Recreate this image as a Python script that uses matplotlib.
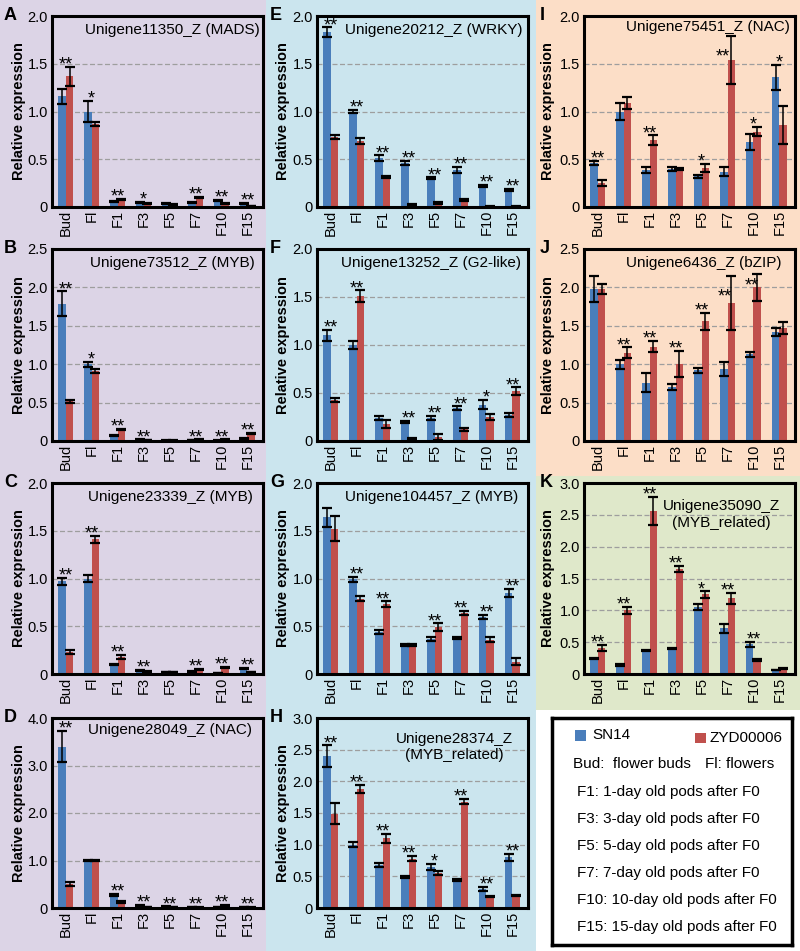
import matplotlib
matplotlib.use("Agg")
import matplotlib.pyplot as plt
from matplotlib.patches import Rectangle
import numpy as np

plt.rcParams['font.family'] = ['Liberation Sans', 'DejaVu Sans']

# stages on the x axis
stages = ['Bud', 'Fl', 'F1', 'F3', 'F5', 'F7', 'F10', 'F15']
series = ['SN14', 'ZYD00006']

# A  Unigene11350_Z (MADS)
a_sn = [1.16, 1.00, 0.06, 0.05, 0.04, 0.05, 0.07, 0.04]
a_sn_err = [0.08, 0.11, 0.005, 0.004, 0.004, 0.005, 0.005, 0.004]
a_zy = [1.37, 0.87, 0.08, 0.04, 0.03, 0.10, 0.04, 0.01]
a_zy_err = [0.10, 0.02, 0.005, 0.004, 0.004, 0.005, 0.004, 0.003]
a_sig = ['**', '*', '**', '*', '', '**', '**', '**']

# B  Unigene73512_Z (MYB)
b_sn = [1.79, 1.00, 0.07, 0.02, 0.005, 0.01, 0.005, 0.03]
b_sn_err = [0.16, 0.03, 0.005, 0.003, 0.002, 0.003, 0.002, 0.004]
b_zy = [0.52, 0.91, 0.15, 0.01, 0.005, 0.02, 0.02, 0.10]
b_zy_err = [0.02, 0.03, 0.007, 0.003, 0.002, 0.003, 0.003, 0.01]
b_sig = ['**', '*', '**', '**', '', '**', '**', '**']

# C  Unigene23339_Z (MYB)
c_sn = [0.97, 1.00, 0.10, 0.04, 0.02, 0.03, 0.01, 0.06]
c_sn_err = [0.04, 0.04, 0.005, 0.004, 0.003, 0.004, 0.002, 0.005]
c_zy = [0.23, 1.41, 0.18, 0.03, 0.02, 0.05, 0.07, 0.02]
c_zy_err = [0.02, 0.04, 0.02, 0.004, 0.003, 0.005, 0.006, 0.003]
c_sig = ['**', '**', '**', '**', '', '**', '**', '**']

# D  Unigene28049_Z (NAC)
d_sn = [3.40, 1.00, 0.28, 0.06, 0.03, 0.02, 0.02, 0.02]
d_sn_err = [0.33, 0.01, 0.02, 0.01, 0.005, 0.005, 0.005, 0.005]
d_zy = [0.50, 1.00, 0.12, 0.02, 0.02, 0.01, 0.05, 0.01]
d_zy_err = [0.04, 0.02, 0.02, 0.005, 0.005, 0.003, 0.01, 0.003]
d_sig = ['**', '', '**', '**', '**', '**', '**', '**']

# E  Unigene20212_Z (WRKY)
e_sn = [1.83, 1.00, 0.51, 0.46, 0.30, 0.39, 0.22, 0.18]
e_sn_err = [0.05, 0.02, 0.03, 0.02, 0.01, 0.03, 0.01, 0.01]
e_zy = [0.73, 0.69, 0.31, 0.02, 0.04, 0.07, 0.005, 0.005]
e_zy_err = [0.02, 0.03, 0.01, 0.01, 0.01, 0.01, 0.002, 0.002]
e_sig = ['**', '**', '**', '**', '**', '**', '**', '**']

# F  Unigene13252_Z (G2-like)
f_sn = [1.10, 1.00, 0.24, 0.20, 0.24, 0.34, 0.38, 0.27]
f_sn_err = [0.06, 0.04, 0.02, 0.01, 0.02, 0.02, 0.05, 0.02]
f_zy = [0.43, 1.51, 0.18, 0.03, 0.04, 0.12, 0.25, 0.52]
f_zy_err = [0.02, 0.06, 0.04, 0.005, 0.03, 0.02, 0.03, 0.04]
f_sig = ['**', '**', '', '**', '**', '**', '*', '**']

# G  Unigene104457_Z (MYB)
g_sn = [1.64, 0.99, 0.44, 0.30, 0.37, 0.38, 0.60, 0.85]
g_sn_err = [0.10, 0.03, 0.02, 0.01, 0.02, 0.01, 0.02, 0.04]
g_zy = [1.52, 0.79, 0.73, 0.30, 0.49, 0.64, 0.36, 0.13]
g_zy_err = [0.13, 0.03, 0.03, 0.01, 0.04, 0.02, 0.03, 0.04]
g_sig = ['', '**', '**', '', '**', '**', '**', '**']

# H  Unigene28374_Z (MYB_related)
h_sn = [2.40, 1.00, 0.68, 0.49, 0.65, 0.44, 0.30, 0.80]
h_sn_err = [0.17, 0.04, 0.03, 0.01, 0.05, 0.02, 0.03, 0.06]
h_zy = [1.49, 1.88, 1.10, 0.78, 0.55, 1.68, 0.18, 0.20]
h_zy_err = [0.17, 0.07, 0.07, 0.04, 0.03, 0.04, 0.01, 0.01]
h_sig = ['**', '**', '**', '**', '*', '**', '**', '**']

# I  Unigene75451_Z (NAC)
i_sn = [0.46, 1.00, 0.39, 0.40, 0.32, 0.37, 0.68, 1.36]
i_sn_err = [0.02, 0.09, 0.03, 0.02, 0.02, 0.05, 0.08, 0.13]
i_zy = [0.25, 1.09, 0.70, 0.40, 0.41, 1.54, 0.79, 0.86]
i_zy_err = [0.03, 0.06, 0.05, 0.01, 0.04, 0.25, 0.05, 0.20]
i_sig = ['**', '', '**', '', '*', '**', '*', '*']

# J  Unigene6436_Z (bZIP)
j_sn = [1.98, 1.00, 0.76, 0.70, 0.92, 0.94, 1.13, 1.42]
j_sn_err = [0.17, 0.06, 0.12, 0.04, 0.03, 0.09, 0.03, 0.05]
j_zy = [1.98, 1.15, 1.23, 1.00, 1.56, 1.80, 2.00, 1.47]
j_zy_err = [0.06, 0.07, 0.07, 0.17, 0.11, 0.35, 0.18, 0.08]
j_sig = ['', '**', '**', '**', '**', '**', '**', '']

# K  Unigene35090_Z (MYB_related)
k_sn = [0.24, 0.14, 0.37, 0.40, 1.05, 0.72, 0.47, 0.06]
k_sn_err = [0.01, 0.01, 0.01, 0.01, 0.05, 0.07, 0.04, 0.005]
k_zy = [0.41, 1.00, 2.56, 1.65, 1.25, 1.19, 0.22, 0.09]
k_zy_err = [0.05, 0.06, 0.22, 0.05, 0.05, 0.09, 0.02, 0.005]
k_sig = ['**', '**', '**', '**', '*', '**', '**', '']

stage_notes = ['F1: 1-day old pods after F0', 'F3: 3-day old pods after F0',
               'F5: 5-day old pods after F0', 'F7: 7-day old pods after F0',
               'F10: 10-day old pods after F0', 'F15: 15-day old pods after F0']

BLUE = '#4A7EBB'
RED = '#C0504D'
W, H = 800, 951

# stars that sit beside the error bar instead of on top (panel, group) -> (dx, y)
star_nudge = {('I', 5): (-0.2, 1.55), ('J', 5): (-0.1, 1.85), ('J', 6): (-0.07, 1.99)}


def px_box(x0, y0, x1, y1):
    return [x0 / W, 1 - y1 / H, (x1 - x0) / W, (y1 - y0) / H]


fig = plt.figure(figsize=(8, 9.51), dpi=100)
fig.patch.set_facecolor('white')

# coloured backgrounds of the figure columns
for x0, y0, x1, y1, c in [(0, 0, 266, 951, '#DCD4E6'), (266, 0, 536, 951, '#CBE5EE'),
                          (536, 0, 800, 476, '#FCDEC7'), (536, 476, 800, 710, '#DFE8CA')]:
    b = px_box(x0, y0, x1, y1)
    fig.patches.append(Rectangle((b[0], b[1]), b[2], b[3], transform=fig.transFigure,
                                 facecolor=c, edgecolor='none', zorder=-10))

col_x = [(52, 263), (317, 528), (584, 795)]
row_y = [(16, 207), (249, 441), (483, 674), (718, 908)]
letter_x = [4, 270, 540]
ylabel_x = [19, 283, 548]

panels = [
    ('A', 0, 0, a_sn, a_sn_err, a_zy, a_zy_err, a_sig, 2.0, 0.5, 'Unigene11350_Z (MADS)', 0.983, 0.927, 'right'),
    ('B', 0, 1, b_sn, b_sn_err, b_zy, b_zy_err, b_sig, 2.5, 0.5, 'Unigene73512_Z (MYB)', 0.959, 0.927, 'right'),
    ('C', 0, 2, c_sn, c_sn_err, c_zy, c_zy_err, c_sig, 2.0, 0.5, 'Unigene23339_Z (MYB)', 0.95, 0.927, 'right'),
    ('D', 0, 3, d_sn, d_sn_err, d_zy, d_zy_err, d_sig, 4.0, 1.0, 'Unigene28049_Z (NAC)', 0.946, 0.937, 'right'),
    ('E', 1, 0, e_sn, e_sn_err, e_zy, e_zy_err, e_sig, 2.0, 0.5, 'Unigene20212_Z (WRKY)', 0.972, 0.927, 'right'),
    ('F', 1, 1, f_sn, f_sn_err, f_zy, f_zy_err, f_sig, 2.0, 0.5, 'Unigene13252_Z (G2-like)', 0.967, 0.927, 'right'),
    ('G', 1, 2, g_sn, g_sn_err, g_zy, g_zy_err, g_sig, 2.0, 0.5, 'Unigene104457_Z (MYB)', 0.953, 0.927, 'right'),
    ('H', 1, 3, h_sn, h_sn_err, h_zy, h_zy_err, h_sig, 3.0, 0.5, 'Unigene28374_Z\n(MYB_related)', 0.65, 0.847, 'center'),
    ('I', 2, 0, i_sn, i_sn_err, i_zy, i_zy_err, i_sig, 2.0, 0.5, 'Unigene75451_Z (NAC)', 0.976, 0.94, 'right'),
    ('J', 2, 1, j_sn, j_sn_err, j_zy, j_zy_err, j_sig, 2.5, 0.5, 'Unigene6436_Z (bZIP)', 0.938, 0.927, 'right'),
    ('K', 2, 2, k_sn, k_sn_err, k_zy, k_zy_err, k_sig, 3.0, 0.5, 'Unigene35090_Z\n(MYB_related)', 0.65, 0.835, 'center'),
]

x = np.arange(len(stages))
bw = 0.29
ekw = dict(ecolor='black', elinewidth=1.1, capsize=3.5, capthick=1.6)

for letter, ci, ri, sn, sn_err, zy, zy_err, sig, ymax, ystep, title, tx, ty, tha in panels:
    x0, x1 = col_x[ci]
    y0, y1 = row_y[ri]
    ax = fig.add_axes(px_box(x0, y0, x1, y1))
    ax.set_facecolor('none')
    ax.set_axisbelow(True)

    ax.bar(x - bw / 2, sn, bw, color=BLUE, yerr=sn_err, error_kw=ekw)
    ax.bar(x + bw / 2, zy, bw, color=RED, yerr=zy_err, error_kw=ekw)

    for i, s in enumerate(sig):
        if not s:
            continue
        if (letter, i) in star_nudge:
            dx, sy = star_nudge[(letter, i)]
            pos = (x[i] + dx, sy)
        else:
            pos = (x[i], max(sn[i] + sn_err[i], zy[i] + zy_err[i]))
        ax.annotate(s, pos, xytext=(0, -2), textcoords='offset points',
                    ha='center', va='baseline', fontsize=13, annotation_clip=False)

    ax.set_xlim(-0.53, 7.6)
    ax.set_ylim(0, ymax)
    ticks = np.arange(0, ymax + ystep / 2, ystep)
    ax.set_yticks(ticks)
    ax.set_yticklabels(['0' if t == 0 else f'{t:.1f}' for t in ticks])
    ax.set_xticks(x)
    ax.set_xticklabels(stages, rotation=90)
    ax.tick_params(axis='y', length=0, pad=3, labelsize=10.5)
    ax.tick_params(axis='x', length=0, pad=2, labelsize=10.5)
    ax.yaxis.grid(True, color='#9E9E9E', linestyle=(0, (4, 2)), linewidth=0.9)
    for sp in ax.spines.values():
        sp.set_linewidth(2.2)
        sp.set_color('black')

    ax.text(tx, ty, title, transform=ax.transAxes, ha=tha, va='center',
            fontsize=11, linespacing=1.25)
    fig.text(letter_x[ci] / W, 1 - y0 / H, letter, ha='left', va='center',
             fontsize=13, fontweight='bold')
    fig.text(ylabel_x[ci] / W, 1 - (y0 + y1) / 2 / H, 'Relative expression',
             rotation=90, ha='center', va='center', fontsize=10.5, fontweight='bold')

# legend box
lg = fig.add_axes(px_box(552, 718, 792, 945))
lg.set_xlim(0, 1)
lg.set_ylim(0, 1)
lg.set_xticks([])
lg.set_yticks([])
lg.set_facecolor('white')
for sp in lg.spines.values():
    sp.set_linewidth(2.5)
lg.add_patch(Rectangle((0.096, 0.9), 0.046, 0.048, facecolor=BLUE, edgecolor='none'))
lg.text(0.167, 0.925, series[0], va='center', fontsize=11)
lg.add_patch(Rectangle((0.596, 0.888), 0.046, 0.048, facecolor=RED, edgecolor='none'))
lg.text(0.658, 0.912, series[1], va='center', fontsize=11)
lg.text(0.0875, 0.797, 'Bud:  flower buds', va='center', fontsize=11)
lg.text(0.638, 0.797, 'Fl: flowers', va='center', fontsize=11)
for k, note in enumerate(stage_notes):
    lg.text(0.104, 0.674 - k * 0.119, note, va='center', fontsize=11)

fig.savefig('out.png', dpi=100)
